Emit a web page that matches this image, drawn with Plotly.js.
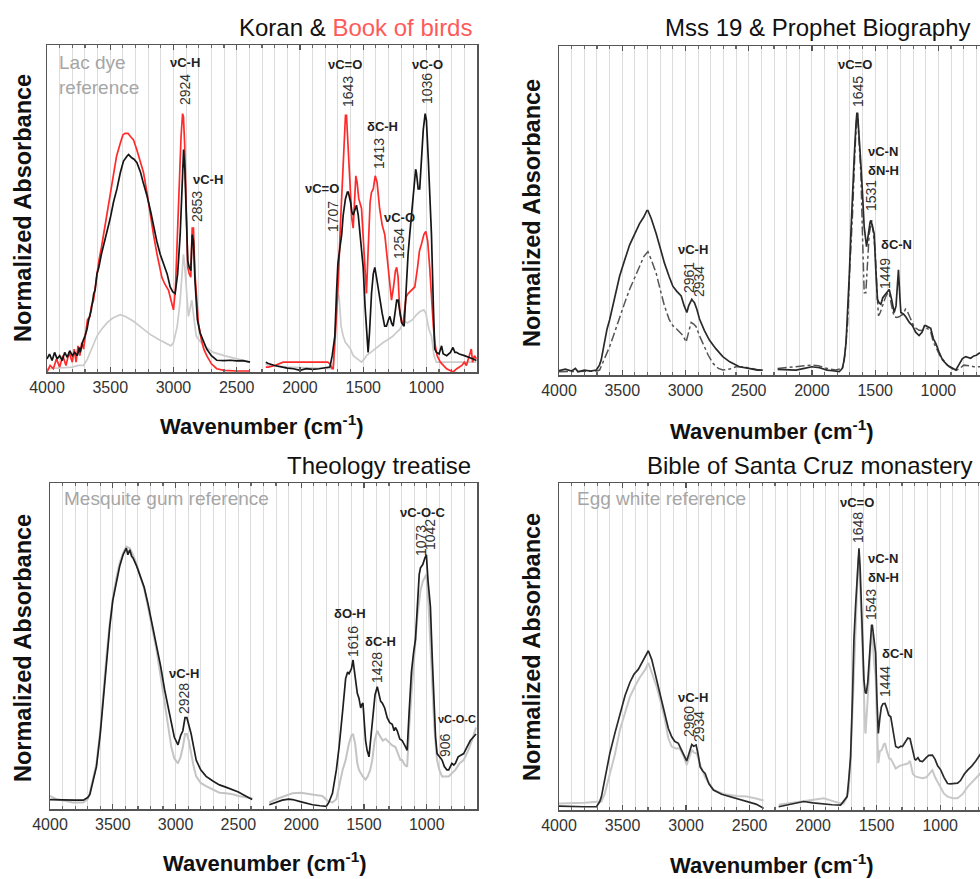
<!DOCTYPE html>
<html>
<head>
<meta charset="utf-8">
<script src="https://cdn.plot.ly/plotly-3.0.1.min.js"></script>
<style>
html,body{margin:0;padding:0;overflow:hidden;background:#fff;}
#chart{width:1000px;height:879px;}
</style>
</head>
<body>
<div id="chart"></div>
<script>
// ---------------- DATA (wavenumber cm-1, normalized absorbance 0..1; null = removed CO2 region) -------------
// Panel 1: Koran (black), Book of birds (red), Lac dye reference (grey)
const koranWn = [4000,3980,3960,3940,3920,3900,3880,3860,3840,3820,3800,3780,3760,3745,3737,3720,3700,3684,3670,3650,3630,3620,3605,3590,3570,3550,3526,3500,3474,3447,3420,3395,3368,3355,3330,3310,3289,3260,3240,3210,3180,3160,3132,3105,3079,3050,3026,3005,2987,2967,2947,2932,2920,2910,2898,2887,2875,2863,2852,2842,2830,2820,2811,2790,2760,2737,2700,2658,2600,2550,2500,2450,2395,2330,
2270,2250,2200,2150,2100,2050,2000,1950,1900,1850,1800,1763,1745,1724,1710,1700,1684,1670,1658,1640,1625,1618,1600,1590,1579,1565,1553,1539,1520,1500,1485,1470,1461,1450,1434,1420,1408,1395,1380,1368,1350,1330,1316,1300,1289,1276,1263,1245,1235,1224,1210,1195,1176,1160,1145,1132,1110,1095,1085,1079,1065,1053,1040,1025,1010,1000,985,970,960,945,934,920,900,880,868,840,810,790,775,763,740,700,660,630,605];
const koranAbs = [.04,.055,.035,.06,.04,.05,.035,.06,.045,.065,.05,.06,.05,.075,.06,.09,.11,.13,.16,.19,.24,.25,.30,.32,.36,.39,.43,.47,.52,.56,.61,.645,.66,.665,.655,.65,.64,.61,.58,.54,.49,.45,.40,.36,.33,.30,.26,.245,.24,.30,.42,.58,.68,.62,.45,.34,.32,.31,.42,.40,.28,.20,.16,.12,.09,.07,.05,.036,.035,.036,.034,.035,.03,null,
.03,.026,.02,.015,.012,.01,.005,.01,.008,.01,.012,.015,.05,.11,.25,.33,.38,.42,.48,.53,.55,.55,.52,.49,.48,.50,.51,.48,.40,.32,.20,.10,.06,.12,.24,.30,.32,.29,.25,.22,.18,.14,.14,.16,.17,.15,.14,.19,.22,.22,.18,.15,.14,.28,.36,.42,.52,.60,.62,.61,.56,.56,.65,.74,.79,.77,.65,.52,.42,.20,.07,.06,.055,.08,.056,.05,.06,.075,.06,.06,.055,.05,.045,.04,.035];

const birdsWn = [4000,3975,3950,3925,3900,3875,3850,3825,3800,3785,3770,3755,3740,3725,3711,3695,3680,3660,3650,3632,3610,3590,3570,3553,3530,3500,3474,3450,3420,3400,3382,3360,3340,3316,3290,3265,3237,3210,3185,3158,3130,3110,3092,3070,3039,3020,3000,2985,2970,2955,2940,2928,2921,2912,2900,2887,2875,2863,2852,2842,2830,2815,2803,2780,2760,2737,2700,2658,2600,2500,2395,2330,
2270,2250,2200,2132,2050,1950,1850,1780,1763,1745,1737,1720,1697,1680,1665,1650,1640,1632,1620,1605,1590,1579,1568,1558,1548,1535,1513,1500,1485,1474,1460,1445,1434,1420,1405,1390,1370,1350,1329,1310,1290,1276,1260,1245,1235,1224,1210,1195,1184,1170,1160,1145,1120,1092,1070,1055,1040,1020,1005,990,974,960,945,934,915,890,868,840,789,760,720,700,684,660,645,635,620,605];
const birdsAbs = [0,.02,.01,.04,.015,.05,.02,.06,.03,.07,.03,.08,.05,.09,.07,.12,.16,.17,.20,.22,.29,.34,.38,.42,.48,.55,.61,.66,.70,.725,.73,.73,.72,.71,.68,.65,.61,.55,.48,.42,.36,.32,.29,.27,.25,.22,.19,.25,.40,.58,.72,.79,.78,.70,.50,.32,.30,.29,.44,.44,.30,.20,.15,.10,.07,.05,.025,.01,.005,.003,.003,null,
.015,.015,.02,.03,.03,.03,.03,.03,.025,.01,.01,.12,.27,.45,.58,.72,.785,.785,.70,.56,.47,.44,.52,.60,.58,.53,.50,.42,.30,.24,.38,.52,.55,.56,.60,.58,.50,.45,.42,.35,.28,.22,.26,.31,.32,.29,.18,.15,.15,.20,.23,.24,.25,.26,.32,.37,.39,.42,.43,.40,.32,.22,.14,.09,.05,.03,.02,.01,0,.01,.02,.03,.02,.05,.07,.03,.05,.04];

const lacWn = [4000,3900,3800,3750,3711,3680,3650,3605,3570,3526,3480,3450,3421,3380,3316,3250,3184,3120,3053,3020,3000,2970,2947,2930,2921,2910,2895,2882,2870,2855,2840,2820,2803,2760,2720,2684,2600,2500,2395,2330,
2270,2250,2100,1950,1800,1737,1720,1711,1700,1690,1675,1658,1640,1618,1600,1579,1550,1513,1490,1474,1440,1408,1380,1342,1300,1263,1240,1211,1190,1171,1150,1132,1110,1079,1050,1020,1005,980,960,940,921,900,800,700,605];
const lacAbs = [.01,.012,.015,.02,.02,.04,.07,.11,.13,.15,.165,.17,.175,.17,.155,.135,.115,.10,.085,.08,.09,.14,.22,.33,.36,.32,.22,.17,.19,.22,.17,.11,.10,.08,.07,.06,.05,.04,.03,null,
.025,.02,.015,.012,.01,.01,.10,.17,.24,.23,.14,.11,.09,.08,.07,.05,.04,.03,.04,.05,.06,.07,.08,.09,.10,.11,.12,.13,.145,.155,.15,.155,.16,.175,.185,.19,.18,.13,.11,.05,.03,.03,.03,.03,.03];

// Panel 2: Mss 19 (solid), Prophet Biography (dash-dot)
const mssWn = [4000,3950,3900,3870,3850,3800,3750,3705,3680,3666,3640,3620,3600,3560,3521,3480,3442,3400,3363,3330,3305,3297,3270,3232,3200,3166,3130,3100,3070,3034,3010,2989,2975,2960,2950,2940,2929,2910,2889,2850,2811,2760,2705,2650,2574,2500,2430,2389,2330,
2271,2200,2126,2060,2000,1940,1880,1837,1784,1760,1745,1730,1718,1705,1692,1680,1666,1652,1645,1639,1630,1620,1613,1600,1587,1568,1555,1540,1534,1520,1508,1495,1482,1470,1455,1440,1429,1410,1389,1370,1350,1335,1325,1316,1305,1297,1275,1258,1230,1205,1180,1153,1130,1110,1100,1080,1061,1040,1021,995,968,930,890,863,840,810,784,760,745,720,700,679,640,600];
const mssAbs = [.013,.018,.012,.02,.01,.015,.012,.015,.03,.046,.10,.14,.167,.23,.30,.35,.395,.43,.46,.48,.50,.50,.475,.43,.385,.34,.30,.27,.255,.24,.21,.19,.21,.225,.23,.225,.22,.20,.17,.135,.106,.08,.056,.04,.025,.02,.015,.015,null,
.017,.015,.015,.02,.025,.022,.015,.013,.01,.02,.046,.10,.18,.30,.43,.55,.66,.76,.795,.795,.75,.68,.64,.55,.45,.39,.43,.465,.47,.45,.43,.32,.23,.22,.215,.235,.24,.25,.26,.23,.19,.21,.28,.32,.24,.19,.185,.177,.16,.15,.13,.12,.13,.15,.15,.145,.142,.11,.096,.07,.046,.03,.02,.015,.03,.05,.056,.052,.051,.058,.06,.066,.07,.075];

const prophetWn = [4000,3900,3800,3700,3679,3650,3620,3600,3560,3521,3480,3442,3400,3363,3330,3297,3270,3232,3200,3166,3130,3100,3070,3047,3020,2995,2975,2955,2935,2916,2890,2863,2820,2784,2740,2705,2650,2600,2547,2480,2420,2389,2330,
2271,2150,2050,2000,1950,1880,1811,1758,1740,1718,1700,1679,1660,1645,1639,1625,1613,1600,1587,1574,1560,1547,1526,1512,1500,1485,1474,1460,1442,1420,1400,1389,1370,1350,1330,1311,1280,1260,1245,1220,1190,1153,1130,1110,1087,1060,1040,1021,990,950,916,863,830,800,784,750,720,679,640,600];
const prophetAbs = [.01,.01,.012,.012,.015,.04,.07,.086,.13,.177,.22,.26,.30,.33,.36,.375,.35,.31,.26,.21,.17,.15,.14,.132,.12,.10,.13,.16,.155,.147,.12,.096,.06,.036,.02,.015,.018,.025,.025,.02,.015,.015,null,
.02,.025,.03,.03,.028,.02,.015,.02,.06,.157,.33,.49,.68,.79,.79,.70,.61,.42,.25,.25,.35,.43,.47,.42,.38,.25,.18,.19,.21,.235,.25,.25,.21,.177,.175,.177,.185,.20,.193,.17,.145,.136,.135,.14,.142,.13,.10,.086,.06,.04,.025,.013,.02,.03,.03,.028,.025,.025,.025,.03];

// Panel 3: Theology treatise (black), Mesquite gum reference (grey)
const theoWn = [4000,3950,3900,3850,3800,3735,3700,3683,3660,3630,3600,3577,3550,3524,3500,3471,3445,3418,3405,3392,3380,3365,3350,3339,3310,3286,3250,3220,3190,3153,3120,3087,3060,3034,3010,2981,2960,2942,2925,2910,2895,2876,2856,2836,2800,2757,2700,2651,2600,2545,2500,2439,2390,2330,
2254,2200,2150,2100,2069,2000,1950,1910,1850,1800,1780,1751,1720,1698,1670,1646,1630,1619,1600,1587,1575,1553,1540,1526,1518,1508,1500,1487,1475,1460,1445,1429,1412,1394,1380,1367,1354,1335,1315,1295,1275,1260,1250,1235,1215,1196,1175,1156,1140,1122,1105,1090,1075,1060,1050,1040,1032,1015,1003,990,971,955,944,930,918,900,878,860,840,825,800,785,772,750,730,706,680,653,630,608];
const theoAbs = [.029,.028,.027,.026,.027,.027,.035,.044,.08,.13,.23,.335,.46,.56,.64,.70,.745,.78,.79,.80,.78,.795,.775,.77,.745,.72,.68,.63,.575,.51,.44,.365,.31,.26,.22,.197,.225,.24,.28,.28,.26,.23,.19,.15,.12,.10,.085,.074,.067,.06,.052,.039,.029,null,
.013,.02,.027,.03,.029,.022,.016,.013,.01,.008,.02,.048,.12,.19,.30,.40,.42,.415,.43,.457,.42,.355,.34,.31,.32,.325,.28,.21,.18,.16,.22,.29,.35,.375,.35,.33,.325,.31,.28,.265,.26,.24,.25,.24,.215,.21,.195,.18,.30,.42,.48,.52,.62,.72,.74,.745,.75,.77,.78,.70,.62,.45,.32,.22,.17,.16,.15,.13,.12,.12,.14,.135,.14,.16,.165,.17,.19,.21,.22,.23];

const mesqWn = [4000,3950,3880,3820,3735,3700,3683,3660,3630,3600,3577,3550,3524,3500,3471,3445,3418,3392,3365,3339,3310,3286,3250,3220,3190,3153,3120,3087,3060,3034,3010,2981,2960,2942,2925,2910,2895,2876,2856,2836,2800,2757,2700,2651,2600,2545,2500,2439,2390,2330,
2254,2200,2130,2069,2000,1950,1900,1831,1790,1751,1720,1698,1670,1646,1620,1600,1587,1570,1553,1540,1510,1487,1470,1450,1434,1415,1394,1375,1350,1328,1300,1275,1249,1230,1210,1196,1175,1156,1140,1116,1090,1075,1050,1030,1015,1003,985,970,958,940,918,900,878,860,825,800,772,740,706,670,640,608];
const mesqAbs = [.04,.03,.025,.02,.02,.03,.05,.09,.14,.24,.35,.47,.57,.645,.71,.755,.785,.805,.80,.78,.75,.72,.675,.62,.56,.49,.41,.33,.25,.19,.155,.14,.16,.19,.23,.23,.21,.17,.13,.10,.08,.07,.06,.05,.048,.045,.04,.035,.033,null,
.02,.03,.04,.048,.05,.048,.044,.04,.025,.02,.03,.07,.12,.15,.20,.225,.23,.20,.14,.12,.10,.09,.10,.12,.15,.21,.24,.225,.21,.215,.205,.195,.19,.17,.15,.15,.135,.13,.25,.385,.52,.59,.67,.70,.71,.72,.62,.50,.365,.25,.15,.12,.10,.10,.10,.11,.12,.14,.15,.18,.21,.25];

// Panel 4: Bible of Santa Cruz monastery (dark), Egg white reference (light)
const bibleWn = [4000,3900,3800,3705,3680,3666,3640,3600,3560,3521,3480,3442,3410,3376,3340,3310,3297,3270,3232,3200,3166,3140,3113,3090,3061,3030,2995,2975,2955,2940,2921,2905,2889,2870,2850,2820,2784,2720,2653,2590,2521,2450,2389,2330,
2271,2200,2130,2074,2000,1916,1850,1784,1750,1732,1718,1705,1690,1679,1665,1653,1645,1639,1630,1618,1608,1600,1590,1582,1570,1561,1550,1540,1534,1520,1508,1497,1487,1475,1463,1450,1434,1420,1405,1389,1370,1350,1330,1310,1297,1275,1255,1237,1220,1200,1192,1175,1160,1139,1110,1090,1061,1040,1020,995,970,942,920,890,863,840,810,784,750,720,679,640,600];
const bibleAbs = [.012,.01,.01,.01,.025,.041,.09,.173,.235,.295,.35,.39,.415,.43,.455,.48,.487,.46,.397,.35,.295,.25,.224,.21,.204,.18,.15,.175,.20,.195,.199,.17,.132,.12,.112,.08,.061,.048,.041,.035,.026,.018,.005,null,
.01,.015,.02,.026,.022,.018,.016,.015,.03,.041,.10,.163,.35,.52,.63,.72,.79,.80,.74,.60,.48,.397,.36,.356,.39,.44,.52,.565,.565,.52,.48,.33,.234,.28,.315,.325,.326,.31,.29,.285,.24,.194,.19,.195,.194,.21,.22,.218,.19,.155,.153,.16,.15,.148,.16,.167,.168,.155,.135,.122,.10,.081,.08,.08,.082,.09,.11,.122,.135,.15,.173,.19,.21];

const eggWn = [4000,3900,3800,3700,3666,3640,3600,3560,3521,3480,3442,3400,3363,3320,3297,3270,3232,3200,3166,3140,3113,3080,3050,3020,2995,2975,2955,2935,2916,2890,2850,2784,2700,2600,2521,2450,2389,2330,
2271,2200,2100,2000,1916,1850,1784,1760,1740,1720,1705,1690,1679,1665,1653,1645,1639,1630,1618,1608,1600,1590,1587,1575,1561,1548,1534,1520,1508,1497,1487,1475,1460,1445,1434,1420,1400,1389,1370,1350,1320,1297,1270,1255,1237,1215,1192,1160,1139,1110,1080,1061,1040,1020,995,970,942,900,863,820,784,750,720,679,640,600];
const eggAbs = [.02,.02,.022,.025,.026,.05,.112,.17,.245,.30,.346,.38,.406,.43,.45,.42,.377,.33,.275,.22,.194,.188,.188,.165,.138,.16,.184,.175,.173,.14,.10,.061,.048,.043,.041,.035,.029,null,
.016,.02,.025,.03,.036,.028,.02,.02,.035,.06,.16,.30,.42,.58,.70,.77,.775,.70,.57,.45,.33,.24,.234,.30,.40,.50,.54,.45,.41,.25,.143,.18,.183,.20,.204,.18,.157,.157,.14,.127,.135,.137,.14,.142,.15,.11,.102,.098,.097,.10,.115,.122,.10,.085,.071,.05,.041,.036,.036,.05,.071,.085,.095,.112,.13,.15];

// tick labels / texts
const panelTitles = ["Koran & <span style='color:#ff5a5a'>Book of birds</span>", "Mss 19 & Prophet Biography", "Theology treatise", "Bible of Santa Cruz monastery"];
const xTitle = "<b>Wavenumber (cm<sup>-1</sup>)</b>";
const yTitle = "<b>Normalized Absorbance</b>";

// ---------------- LAYOUT -------------
const W = 1000, H = 879;
const P = (x, y) => ({x: x / W, y: 1 - y / H});
const FONT = 'Arial, "Liberation Sans", sans-serif';

function xaxis(d0, d1, anchor) {
  return {domain: [d0 / W, d1 / W], anchor: anchor, range: [4000, 600], dtick: 500, tick0: 0,
    ticks: 'inside', ticklen: 5, tickwidth: 1.2, tickcolor: '#555',
    showline: true, linecolor: '#555', linewidth: 1.5, mirror: 'ticks',
    showgrid: true, gridcolor: '#dcdcdc', gridwidth: 1, zeroline: false,
    tickfont: {family: FONT, size: 16, color: '#333'},
    minor: {dtick: 100, ticks: 'inside', ticklen: 3, tickcolor: '#666', showgrid: true, gridcolor: '#dcdcdc', gridwidth: 1},
    fixedrange: true};
}
function yaxis(top, bot, anchor) {
  return {domain: [1 - bot / H, 1 - top / H], anchor: anchor, range: [0, 1],
    showticklabels: false, ticks: '', showline: true, linecolor: '#555', linewidth: 1.5, mirror: true,
    showgrid: false, zeroline: false, fixedrange: true};
}

const layout = {
  width: W, height: H, margin: {l: 0, r: 0, t: 0, b: 0}, showlegend: false,
  paper_bgcolor: '#fff', plot_bgcolor: '#fff',
  xaxis: xaxis(47, 477, 'y'), yaxis: yaxis(45, 372, 'x'),
  xaxis2: xaxis(559, 989, 'y2'), yaxis2: yaxis(46, 375, 'x2'),
  xaxis3: xaxis(50, 477, 'y3'), yaxis3: yaxis(483, 809, 'x3'),
  xaxis4: xaxis(559, 991, 'y4'), yaxis4: yaxis(483, 810, 'x4'),
  annotations: []
};

function ann(text, x, y, opt) {
  const p = P(x, y);
  layout.annotations.push(Object.assign({text: text, x: p.x, y: p.y, xref: 'paper', yref: 'paper',
    showarrow: false, xanchor: 'center', yanchor: 'middle',
    font: {family: FONT, size: 13, color: '#222'}}, opt || {}));
}
function bold(t, x, y, size) { ann('<b>' + t + '</b>', x, y, {font: {family: FONT, size: size || 13, color: '#222'}}); }
function rot(t, x, y) { ann(t, x, y, {textangle: -90, font: {family: FONT, size: 14, color: '#333'}}); }

// panel titles
const titlePos = [[474, 27], [973, 28], [473, 465], [975, 465]];
panelTitles.forEach((t, i) => ann(t, titlePos[i][0], titlePos[i][1], {xanchor: 'right', font: {family: FONT, size: 24, color: '#111'}}));
// axis titles
[[262, 425], [772, 430], [265, 862], [772, 864]].forEach(p => ann(xTitle, p[0], p[1], {font: {family: FONT, size: 22, color: '#111'}}));
[[23, 208], [532, 213], [23, 648], [532, 647]].forEach(p => ann(yTitle, p[0], p[1], {textangle: -90, font: {family: FONT, size: 23.5, color: '#111'}}));
// reference labels
ann('Lac dye<br>reference', 57, 75, {xanchor: 'left', align: 'left', font: {family: FONT, size: 19, color: '#a6a6a6'}});
ann('Mesquite gum reference', 62, 498, {xanchor: 'left', font: {family: FONT, size: 19, color: '#a6a6a6'}});
ann('Egg white reference', 575, 498, {xanchor: 'left', font: {family: FONT, size: 19, color: '#a6a6a6'}});

// band assignments
[['νC-H',185,62],['νC-H',208,180],['νC=O',345,65],['δC-H',382,127],['νC=O',322,189],['νC-O',399,217],['νC-O',427,65],
 ['νC=O',855,65],['νC-N',883,152],['δN-H',883,170],['δC-N',896,244],['νC-H',693,250],
 ['νC-H',184,673],['δO-H',350,613],['δC-H',380,641],['νC-O-C',422,512],
 ['νC=O',857,502],['νC-N',883,558],['δN-H',883,577],['δC-N',897,653],['νC-H',693,697]].forEach(a => bold(a[0], a[1], a[2]));
bold('νC-O-C', 457, 719, 11);
[['2924',185,90],['2853',197,207],['1643',348,92],['1413',379,154],['1707',333,217],['1254',399,244],['1036',427,89],
 ['1645',858,92],['1531',871,196],['1449',885,274],['2961',689,278],['2934',699,282],
 ['2928',184,699],['1616',353,642],['1428',377,668],['1073',421,541],['1042',430,535],['906',445,745],
 ['1648',858,528],['1543',871,605],['1444',885,682],['2960',689,722],['2934',699,727]].forEach(a => rot(a[0], a[1], a[2]));

function tr(x, y, ax, color, dash, width) {
  return {x: x, y: y, xaxis: 'x' + ax, yaxis: 'y' + ax, type: 'scatter', mode: 'lines',
    connectgaps: false, hoverinfo: 'skip',
    line: {color: color, width: width || 1.7, dash: dash || 'solid'}};
}
const data = [
  tr(lacWn, lacAbs, '', '#cbcbcb'),
  tr(birdsWn, birdsAbs, '', '#ff2a2a'),
  tr(koranWn, koranAbs, '', '#151515'),
  tr(prophetWn, prophetAbs, '2', '#555555', 'dashdot', 1.5),
  tr(mssWn, mssAbs, '2', '#2a2a2a'),
  tr(mesqWn, mesqAbs, '3', '#c4c4c4', 'solid', 2),
  tr(theoWn, theoAbs, '3', '#1e1e1e'),
  tr(eggWn, eggAbs, '4', '#c8c8c8', 'solid', 2),
  tr(bibleWn, bibleAbs, '4', '#2a2a2a')
];

Plotly.newPlot('chart', data, layout, {staticPlot: true, displayModeBar: false});
</script>
</body>
</html>
